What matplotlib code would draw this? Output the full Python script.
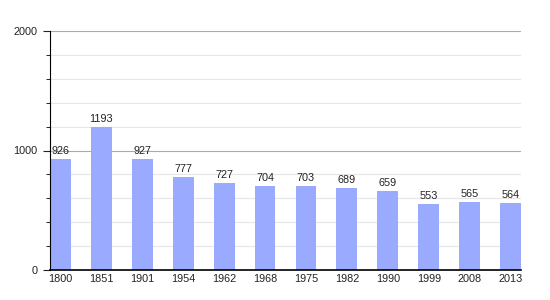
import matplotlib
matplotlib.use("Agg")
import matplotlib.pyplot as plt

plt.rcParams['font.family'] = ['Liberation Sans', 'DejaVu Sans']

years = ["1800", "1851", "1901", "1954", "1962", "1968", "1975", "1982", "1990", "1999", "2008", "2013"]
population = [926, 1193, 927, 777, 727, 704, 703, 689, 659, 553, 565, 564]

fig = plt.figure(figsize=(5.5, 3), dpi=100)
ax = fig.add_axes([50 / 550, 30 / 300, 471 / 550, 239 / 300])

x = list(range(len(years)))
w = 0.51
ax.bar(x, population, width=w, color="#99aaff", zorder=2)

for xi, v in zip(x, population):
    ax.text(xi, v + 25, str(v), ha="center", va="bottom", fontsize=7.8, color="#222222")

ax.set_xlim(-w / 2, len(years) - 1 + w / 2)
ax.set_ylim(0, 2000)
ax.set_yticks([0, 1000, 2000])
ax.set_yticks(range(200, 2000, 200), minor=True)
ax.set_xticks(x)
ax.set_xticklabels(years)

ax.grid(axis="y", which="major", color="#aaaaaa", linewidth=0.8, zorder=0)
ax.grid(axis="y", which="minor", color="#e6e6e6", linewidth=0.8, zorder=0)

for s in ["top", "right"]:
    ax.spines[s].set_visible(False)
ax.spines["left"].set_linewidth(0.8)
ax.spines["bottom"].set_linewidth(1.2)
ax.tick_params(axis="y", which="major", length=5, labelsize=7.8, pad=4, colors="#222222")
ax.tick_params(axis="y", which="minor", length=3)
ax.tick_params(axis="x", length=0, labelsize=7.8, pad=3, colors="#222222")

fig.savefig("out.png", dpi=100)
